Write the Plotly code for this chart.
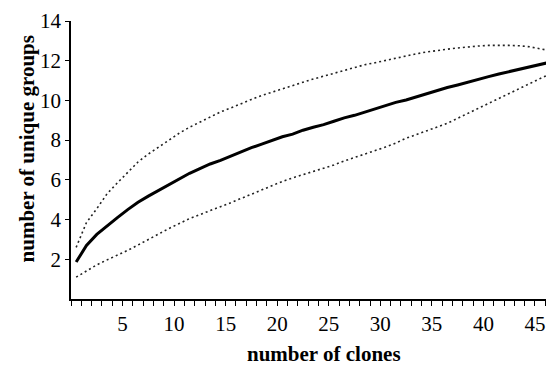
import plotly.graph_objects as go

# Number of clones sampled (1..47); each count is drawn centred in its unit cell
clones = list(range(1, 48))

# Mean number of unique groups found
mean_groups = [1.86, 2.70, 3.25, 3.70, 4.10, 4.50, 4.87, 5.18, 5.47, 5.78,
               6.06, 6.33, 6.57, 6.80, 6.98, 7.20, 7.40, 7.62, 7.80, 8.00,
               8.17, 8.30, 8.50, 8.65, 8.78, 8.95, 9.12, 9.25, 9.42, 9.58,
               9.75, 9.90, 10.02, 10.18, 10.32, 10.50, 10.65, 10.78, 10.93, 11.08,
               11.20, 11.33, 11.45, 11.55, 11.68, 11.80, 11.93]

# Upper confidence bound
upper_groups = [2.60, 3.85, 4.55, 5.30, 5.85, 6.40, 6.90, 7.30, 7.65, 8.00,
                8.35, 8.65, 8.92, 9.17, 9.42, 9.62, 9.85, 10.05, 10.25, 10.42,
                10.60, 10.77, 10.93, 11.08, 11.22, 11.37, 11.52, 11.66, 11.80, 11.90,
                12.02, 12.14, 12.25, 12.35, 12.44, 12.52, 12.58, 12.64, 12.70, 12.74,
                12.77, 12.78, 12.77, 12.75, 12.70, 12.60, 12.50]

# Lower confidence bound
lower_groups = [1.10, 1.42, 1.72, 1.97, 2.20, 2.45, 2.72, 3.00, 3.30, 3.55,
                3.80, 4.05, 4.25, 4.47, 4.65, 4.85, 5.07, 5.30, 5.50, 5.72,
                5.92, 6.10, 6.27, 6.42, 6.57, 6.75, 6.95, 7.12, 7.30, 7.48,
                7.65, 7.85, 8.10, 8.28, 8.48, 8.67, 8.85, 9.10, 9.35, 9.60,
                9.85, 10.10, 10.35, 10.62, 10.88, 11.10, 11.35]

x_ticks = [5, 10, 15, 20, 25, 30, 35, 40, 45]
y_ticks = [2, 4, 6, 8, 10, 12, 14]

xpos = [c - 0.5 for c in clones]
serif = "Liberation Serif"
tick_font = dict(family=serif, size=21, color="black")

fig = go.Figure()
for ys in (upper_groups, lower_groups):
    fig.add_trace(go.Scatter(x=xpos, y=ys, mode="lines",
                             line=dict(color="#222222", width=1.6, dash="2px,3px"),
                             showlegend=False, hoverinfo="skip"))
fig.add_trace(go.Scatter(x=xpos, y=mean_groups, mode="lines",
                         line=dict(color="black", width=3),
                         showlegend=False))

fig.update_layout(
    width=546, height=365,
    margin=dict(l=71, r=0, t=21, b=66),
    paper_bgcolor="white", plot_bgcolor="white",
    font=dict(family=serif, size=21, color="black"),
    xaxis=dict(range=[0, 46.07], showgrid=False, zeroline=False,
               showline=True, linecolor="black", linewidth=1.5,
               tickmode="array", tickvals=x_ticks, ticks="outside",
               ticklen=5, tickwidth=1.2, tickcolor="black",
               tickfont=tick_font, ticklabelstandoff=0,
               minor=dict(dtick=1, tick0=0, ticks="outside", ticklen=5,
                          tickwidth=1.2, tickcolor="black")),
    yaxis=dict(range=[0, 14], showgrid=False, zeroline=False,
               showline=True, linecolor="black", linewidth=1.5,
               tickmode="array", tickvals=y_ticks, ticks="outside",
               ticklen=4, tickwidth=1.2, tickcolor="black",
               tickfont=tick_font, ticklabelstandoff=0),
    annotations=[
        dict(text="<b>number of clones</b>", xref="paper", yref="paper",
             x=0.533, y=-0.198, xanchor="center", yanchor="middle",
             showarrow=False, font=dict(family=serif, size=21, color="black")),
        dict(text="<b>number of unique groups</b>", xref="paper", yref="paper",
             x=-0.092, y=0.539, xanchor="center", yanchor="middle",
             textangle=-90, showarrow=False,
             font=dict(family=serif, size=21, color="black")),
    ],
)

fig.write_html("out.html")
